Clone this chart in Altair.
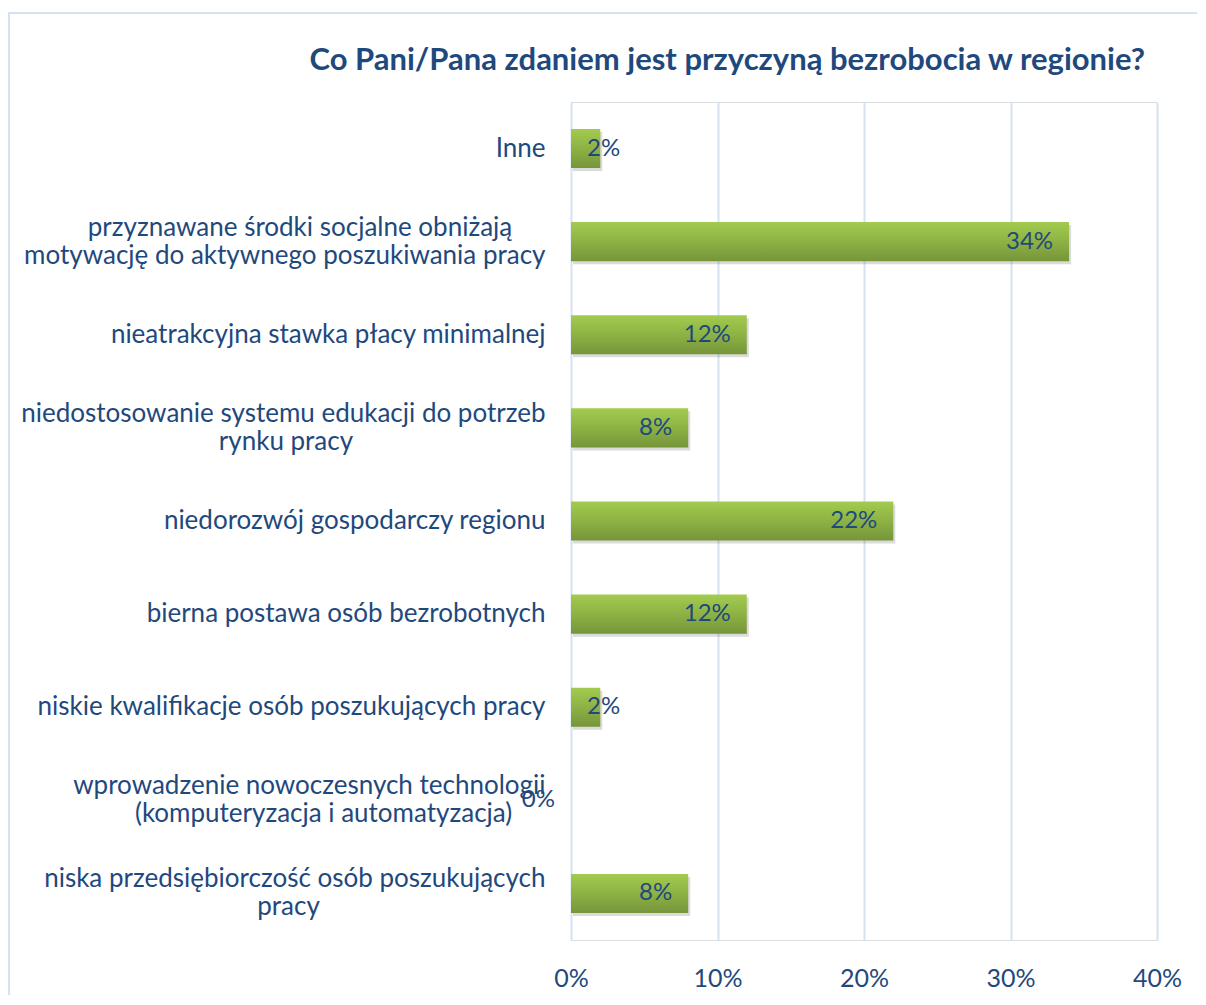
import altair as alt
import pandas as pd

categories = [
    "Inne",
    "przyznawane środki socjalne obniżają\nmotywację do aktywnego poszukiwania pracy",
    "nieatrakcyjna stawka płacy minimalnej",
    "niedostosowanie systemu edukacji do potrzeb\nrynku  pracy",
    "niedorozwój gospodarczy regionu",
    "bierna postawa osób bezrobotnych",
    "niskie kwalifikacje osób poszukujących pracy",
    "wprowadzenie nowoczesnych technologii\n(komputeryzacja i automatyzacja)",
    "niska przedsiębiorczość osób poszukujących\npracy",
]
values = [2, 34, 12, 8, 22, 12, 2, 0, 8]
x_ticks = [0, 10, 20, 30, 40]
title_text = "Co Pani/Pana zdaniem jest przyczyną bezrobocia w regionie?"

df = pd.DataFrame({"cat": categories, "v": values})

FONT = "Lato"
TXT = "#1F497D"
NBSP = "\u00a0"
ZW = "\u200b"

W, H = 586, 838

# multi-line labels: centre the shorter line under the longer one
L0 = "split(datum.value, '\\n')[0]"
L1 = "split(datum.value, '\\n')[1]"
K = "0.92"
label_expr = (
    f"length(split(datum.value, '\\n')) > 1 ? "
    f"(length({L0}) >= length({L1}) ? "
    f"[{L0}, pad({L1}, length({L1}) + round({K} * (length({L0}) - length({L1}))), '{NBSP}') + '{ZW}'] : "
    f"[pad({L0}, length({L0}) + round({K} * (length({L1}) - length({L0}))), '{NBSP}') + '{ZW}', {L1}]) "
    f": datum.value"
)

y_enc = alt.Y(
    "cat:N",
    sort=categories,
    scale=alt.Scale(paddingInner=0.58, paddingOuter=0.29),
    axis=alt.Axis(
        title=None,
        labelExpr=label_expr,
        labelFont=FONT,
        labelFontSize=26,
        labelColor=TXT,
        labelPadding=26,
        labelLimit=0,
        labelLineHeight=28,
        labelAlign="right",
        labelOffset={
            "condition": {"test": "indexof(datum.value, '\\n') >= 0", "value": -14},
            "value": 0,
        },
        ticks=False,
        domain=False,
        grid=False,
    ),
)
x_scale = alt.Scale(domain=[0, 40], nice=False)
x_enc = alt.X(
    "v:Q",
    scale=x_scale,
    axis=alt.Axis(
        title=None,
        values=x_ticks,
        labelExpr="datum.value + '%'",
        labelFont=FONT,
        labelFontSize=25,
        labelColor=TXT,
        labelPadding=26,
        labelFlush=False,
        ticks=False,
        domain=False,
        grid=True,
        gridColor="#D5E2F2",
        gridWidth=2,
    ),
)

base = alt.Chart(df).transform_calculate(label="datum.v + '%'", base="0")

border = alt.Chart(pd.DataFrame({"a": [0]})).mark_rect(
    fillOpacity=0, stroke="#D5E2F1", strokeWidth=2
).encode(
    x=alt.value(-562), x2=alt.value(900), y=alt.value(-89), y2=alt.value(1100)
)

shadow = base.transform_filter("datum.v > 0").mark_bar(
    color="#000000", opacity=0.14, xOffset=2, x2Offset=4, yOffset=3, y2Offset=3
).encode(x=x_enc, y=y_enc)

gradient = alt.Gradient(
    gradient="linear",
    stops=[
        alt.GradientStop(color="#A3CB4F", offset=0),
        alt.GradientStop(color="#8DB244", offset=0.5),
        alt.GradientStop(color="#76953A", offset=1),
    ],
    x1=0, x2=0, y1=0, y2=1,
)

bars = base.mark_bar(color=gradient).encode(x=x_enc, y=y_enc)

labels_end = base.transform_filter("datum.v >= 5 || datum.v == 0").mark_text(
    align="right", baseline="middle", dx=-16, font=FONT, fontSize=24, color=TXT
).encode(x=alt.X("v:Q", scale=x_scale), y=alt.Y("cat:N", sort=categories), text="label:N")

labels_start = base.transform_filter("datum.v > 0 && datum.v < 5").mark_text(
    align="left", baseline="middle", dx=16, font=FONT, fontSize=24, color=TXT
).encode(x=alt.X("base:Q", scale=x_scale), y=alt.Y("cat:N", sort=categories), text="label:N")

chart = alt.layer(border, shadow, bars, labels_end, labels_start).properties(
    width=W,
    height=H,
    title=alt.TitleParams(
        text=title_text,
        font=FONT,
        fontSize=31,
        fontWeight="bold",
        color=TXT,
        anchor="end",
        frame="group",
        baseline="alphabetic",
        dx=-12,
        offset=-89,
    ),
    autosize=alt.AutoSizeParams(type="none"),
    padding={"left": 563, "top": 94, "right": 40, "bottom": 55},
).configure_view(stroke=None).configure(background="white")

chart.save("out.html", embed_options={"renderer": "svg", "actions": False})
